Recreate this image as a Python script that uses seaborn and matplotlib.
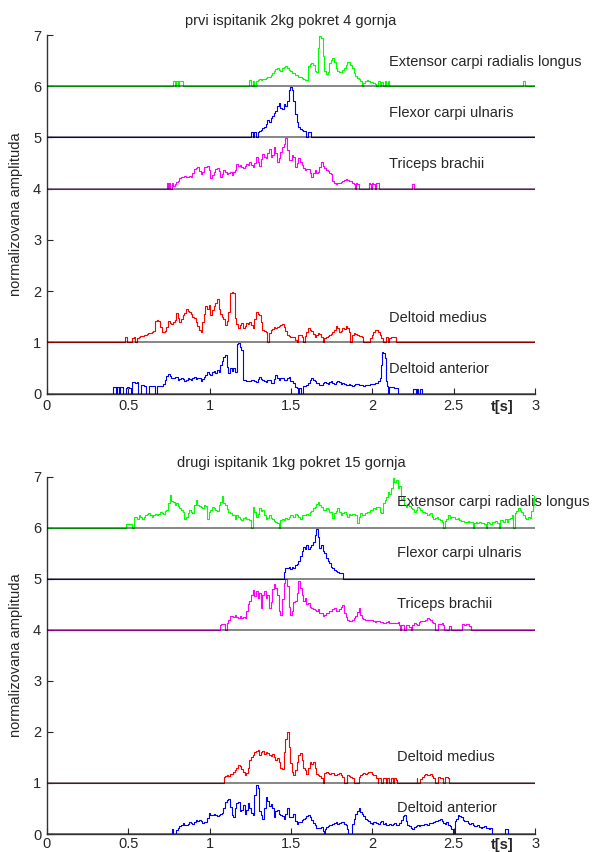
import numpy as np
import matplotlib
matplotlib.use('Agg')
import matplotlib.pyplot as plt
from matplotlib.ticker import FormatStrFormatter
import seaborn as sns

# chart text
titles = ['prvi ispitanik 2kg pokret 4 gornja', 'drugi ispitanik 1kg pokret 15 gornja']
muscles = ['Extensor carpi radialis longus', 'Flexor carpi ulnaris', 'Triceps brachii',
           'Deltoid medius', 'Deltoid anterior']
offsets = [6, 5, 4, 1, 0]
colors = ['#00ff00', '#0000ff', '#ff00ff', '#ff0000', '#0000ff']
x_ticks = [0, 0.5, 1, 1.5, 2, 2.5, 3]
y_ticks = [0, 1, 2, 3, 4, 5, 6, 7]

# ---- subject 1 (top panel) ----
s1_ecrl_t = [0, 0.775, 0.78, 0.79, 0.80, 0.81, 0.82, 0.83, 0.84,
             1.24, 1.25, 1.26, 1.27, 1.28, 1.29, 1.30, 1.31, 1.32, 1.33,
             1.34, 1.35, 1.36, 1.37, 1.38, 1.39, 1.40, 1.41, 1.42, 1.43,
             1.44, 1.45, 1.46, 1.47, 1.48, 1.49, 1.50, 1.51, 1.52, 1.53,
             1.54, 1.55, 1.56, 1.57, 1.58, 1.59, 1.60, 1.61, 1.62, 1.63,
             1.64, 1.65, 1.66, 1.67, 1.68, 1.69, 1.70, 1.71, 1.72, 1.73,
             1.74, 1.75, 1.76, 1.77, 1.78, 1.79, 1.80, 1.81, 1.82, 1.83,
             1.84, 1.85, 1.86, 1.87, 1.88, 1.89, 1.90, 1.91, 1.92, 1.93,
             1.94, 1.95, 1.96, 1.97, 1.98, 1.99, 2.00, 2.01, 2.02, 2.03,
             2.04, 2.05, 2.06, 2.07, 2.08, 2.09, 2.10, 2.11,
             2.92, 2.925, 2.935, 2.94, 3.0]
s1_ecrl_v = [0, 0, 0.10, 0, 0.10, 0, 0.10, 0.10, 0,
             0, 0.12, 0.0, 0.11, 0.0, 0.10, 0.12, 0.14, 0.13, 0.15,
             0.15, 0.17, 0.18, 0.19, 0.21, 0.25, 0.30, 0.34, 0.36, 0.31,
             0.29, 0.35, 0.38, 0.40, 0.36, 0.31, 0.30, 0.26, 0.25, 0.22,
             0.22, 0.19, 0.18, 0.17, 0.15, 0.12, 0.13, 0.40, 0.44, 0.45,
             0.42, 0.30, 0.28, 0.75, 0.98, 0.95, 0.60, 0.30, 0.24, 0.28,
             0.45, 0.52, 0.56, 0.48, 0.35, 0.30, 0.28, 0.27, 0.31, 0.36,
             0.42, 0.47, 0.48, 0.42, 0.35, 0.25, 0.20, 0.16, 0.14, 0.10,
             0.0, 0.06, 0.10, 0.12, 0.11, 0.08, 0.09, 0.06, 0.05, 0.0,
             0.10, 0.0, 0.09, 0.0, 0.10, 0.0, 0.10, 0,
             0, 0.10, 0.10, 0, 0]

s1_fcu_t = [0, 1.255, 1.26, 1.27, 1.28, 1.29, 1.30, 1.31, 1.32, 1.33,
            1.34, 1.35, 1.36, 1.37, 1.38, 1.39, 1.40, 1.41, 1.42, 1.43,
            1.44, 1.45, 1.46, 1.47, 1.48, 1.49, 1.50, 1.51, 1.52, 1.53,
            1.54, 1.55, 1.56, 1.57, 1.58, 1.59, 1.60, 1.61, 1.62, 1.625, 3.0]
s1_fcu_v = [0, 0, 0.10, 0, 0.10, 0.0, 0.10, 0.12, 0.15, 0.18,
            0.20, 0.27, 0.34, 0.30, 0.38, 0.42, 0.48, 0.52, 0.62, 0.68,
            0.58, 0.55, 0.66, 0.62, 0.72, 0.92, 0.99, 0.92, 0.72, 0.45,
            0.30, 0.20, 0.16, 0.14, 0.13, 0.12, 0.0, 0.10, 0.10, 0, 0]

s1_tri_t = [0, 0.735, 0.74, 0.75, 0.755, 0.765, 0.77, 0.78, 0.79, 0.80,
            0.81, 0.82, 0.83, 0.84, 0.85, 0.86, 0.87, 0.88, 0.89, 0.90,
            0.91, 0.92, 0.93, 0.94, 0.95, 0.96, 0.97, 0.98, 0.99, 1.00,
            1.01, 1.02, 1.03, 1.04, 1.05, 1.06, 1.07, 1.08, 1.09, 1.10,
            1.11, 1.12, 1.13, 1.14, 1.15, 1.16, 1.17, 1.18, 1.19, 1.20,
            1.21, 1.22, 1.23, 1.24, 1.25, 1.26, 1.27, 1.28, 1.29, 1.30,
            1.31, 1.32, 1.33, 1.34, 1.35, 1.36, 1.37, 1.38, 1.39, 1.40,
            1.41, 1.42, 1.43, 1.44, 1.45, 1.46, 1.47, 1.48, 1.49, 1.50,
            1.51, 1.52, 1.53, 1.54, 1.55, 1.56, 1.57, 1.58, 1.59, 1.60,
            1.61, 1.62, 1.63, 1.64, 1.65, 1.66, 1.67, 1.68, 1.69, 1.70,
            1.71, 1.72, 1.73, 1.74, 1.75, 1.76, 1.77, 1.78, 1.79, 1.80,
            1.81, 1.82, 1.83, 1.84, 1.85, 1.86, 1.87, 1.88, 1.89, 1.895,
            1.90, 1.91, 1.92, 1.975, 1.98, 1.99, 1.995, 2.00, 2.01, 2.02,
            2.025, 2.04, 2.045, 2.05, 2.24, 2.245, 2.255, 2.26, 3.0]
s1_tri_v = [0, 0, 0.11, 0.0, 0.11, 0.0, 0.11, 0.05, 0.10, 0.13,
            0.15, 0.20, 0.23, 0.22, 0.24, 0.23, 0.22, 0.24, 0.23, 0.30,
            0.39, 0.41, 0.42, 0.35, 0.29, 0.33, 0.42, 0.43, 0.44, 0.36,
            0.20, 0.26, 0.33, 0.38, 0.41, 0.35, 0.23, 0.28, 0.36, 0.33,
            0.28, 0.30, 0.32, 0.27, 0.33, 0.37, 0.49, 0.44, 0.46, 0.43,
            0.40, 0.45, 0.49, 0.47, 0.52, 0.46, 0.43, 0.51, 0.62, 0.52,
            0.45, 0.58, 0.68, 0.62, 0.59, 0.70, 0.78, 0.62, 0.66, 0.81,
            0.70, 0.52, 0.60, 0.72, 0.82, 0.88, 0.98, 0.75, 0.55, 0.55,
            0.65, 0.62, 0.42, 0.50, 0.59, 0.52, 0.46, 0.40, 0.36, 0.39,
            0.38, 0.30, 0.23, 0.30, 0.36, 0.30, 0.33, 0.42, 0.52, 0.45,
            0.40, 0.36, 0.34, 0.30, 0.28, 0.15, 0.11, 0.09, 0.11, 0.12,
            0.13, 0.14, 0.16, 0.18, 0.16, 0.15, 0.15, 0.12, 0.10, 0.0,
            0.11, 0.10, 0.0, 0.0, 0.11, 0.10, 0.0, 0.11, 0.10, 0.0,
            0.11, 0.11, 0.0, 0.0, 0.0, 0.10, 0.10, 0.0, 0.0]

s1_dm_t = [0, 0.478, 0.482, 0.49, 0.495, 0.52, 0.53, 0.54, 0.55, 0.56,
           0.57, 0.58, 0.59, 0.60, 0.61, 0.62, 0.63, 0.64, 0.65, 0.66,
           0.67, 0.68, 0.69, 0.70, 0.71, 0.72, 0.73, 0.74, 0.75, 0.76,
           0.77, 0.78, 0.79, 0.80, 0.81, 0.82, 0.83, 0.84, 0.85, 0.86,
           0.87, 0.88, 0.89, 0.90, 0.91, 0.92, 0.93, 0.94, 0.95, 0.96,
           0.97, 0.98, 0.99, 1.00, 1.01, 1.02, 1.03, 1.04, 1.05, 1.06,
           1.07, 1.08, 1.09, 1.10, 1.11, 1.12, 1.13, 1.14, 1.15, 1.16,
           1.17, 1.18, 1.19, 1.20, 1.21, 1.22, 1.23, 1.24, 1.25, 1.26,
           1.27, 1.28, 1.29, 1.30, 1.31, 1.32, 1.33, 1.34, 1.35, 1.36,
           1.37, 1.38, 1.39, 1.40, 1.41, 1.42, 1.43, 1.44, 1.45, 1.46,
           1.47, 1.48, 1.49, 1.50, 1.51, 1.52, 1.53, 1.54, 1.55, 1.56,
           1.57, 1.58, 1.59, 1.60, 1.61, 1.62, 1.63, 1.64, 1.65, 1.66,
           1.67, 1.68, 1.69, 1.70, 1.71, 1.72, 1.73, 1.74, 1.75, 1.76,
           1.77, 1.78, 1.79, 1.80, 1.81, 1.82, 1.83, 1.84, 1.85, 1.86,
           1.87, 1.88, 1.89, 1.90, 1.91, 1.92, 1.93, 1.94, 1.95, 1.96,
           1.98, 1.99, 2.00, 2.01, 2.02, 2.03, 2.04, 2.05, 2.06, 2.07,
           2.08, 2.085, 2.09, 2.10, 2.11, 2.12, 2.13, 2.14, 2.15, 3.0]
s1_dm_v = [0, 0, 0.11, 0.11, 0, 0, 0.09, 0.10, 0.0, 0.08,
           0.11, 0.12, 0.13, 0.14, 0.15, 0.17, 0.18, 0.19, 0.21, 0.22,
           0.42, 0.44, 0.42, 0.30, 0.21, 0.21, 0.22, 0.30, 0.42, 0.38,
           0.35, 0.40, 0.44, 0.57, 0.48, 0.40, 0.46, 0.53, 0.58, 0.66,
           0.62, 0.60, 0.55, 0.50, 0.47, 0.40, 0.31, 0.25, 0.21, 0.40,
           0.55, 0.70, 0.65, 0.73, 0.53, 0.63, 0.70, 0.76, 0.85, 0.65,
           0.55, 0.50, 0.45, 0.34, 0.42, 0.60, 0.96, 0.99, 0.97, 0.47,
           0.35, 0.27, 0.33, 0.37, 0.28, 0.32, 0.37, 0.36, 0.40, 0.33,
           0.27, 0.45, 0.60, 0.55, 0.53, 0.40, 0.24, 0.22, 0.20, 0.0,
           0.18, 0.24, 0.26, 0.29, 0.28, 0.30, 0.31, 0.33, 0.35, 0.30,
           0.22, 0.14, 0.12, 0.11, 0.11, 0.10, 0.05, 0.0, 0.14, 0.14,
           0.10, 0.0, 0.12, 0.20, 0.27, 0.25, 0.23, 0.16, 0.11, 0.14,
           0.18, 0.17, 0.10, 0.0, 0.09, 0.11, 0.12, 0.14, 0.16, 0.21,
           0.25, 0.31, 0.28, 0.21, 0.22, 0.27, 0.26, 0.31, 0.28, 0.21,
           0.0, 0.15, 0.18, 0.16, 0.15, 0.13, 0.12, 0.11, 0.0, 0.0,
           0.0, 0.08, 0.15, 0.20, 0.24, 0.25, 0.20, 0.15, 0.08, 0.0,
           0.0, 0.11, 0.10, 0.0, 0.08, 0.11, 0.10, 0.11, 0, 0]

s1_da_t = [0, 0.405, 0.41, 0.42, 0.425, 0.435, 0.44, 0.45, 0.455, 0.465,
           0.47, 0.48, 0.49, 0.50, 0.51, 0.52, 0.53, 0.54, 0.55, 0.56,
           0.565, 0.575, 0.58, 0.59, 0.60, 0.61, 0.615, 0.625, 0.63, 0.64,
           0.65, 0.66, 0.665, 0.675, 0.68, 0.69, 0.70, 0.71, 0.72, 0.73,
           0.74, 0.75, 0.76, 0.77, 0.78, 0.79, 0.80, 0.81, 0.82, 0.83,
           0.84, 0.85, 0.86, 0.87, 0.88, 0.89, 0.90, 0.91, 0.92, 0.93,
           0.94, 0.95, 0.96, 0.97, 0.98, 0.99, 1.00, 1.01, 1.02, 1.03,
           1.04, 1.05, 1.06, 1.07, 1.08, 1.09, 1.10, 1.11, 1.12, 1.13,
           1.14, 1.15, 1.16, 1.165, 1.17, 1.18, 1.19, 1.20, 1.205, 1.21,
           1.22, 1.23, 1.24, 1.25, 1.26, 1.27, 1.28, 1.29, 1.30, 1.31,
           1.32, 1.33, 1.34, 1.35, 1.36, 1.37, 1.38, 1.39, 1.40, 1.41,
           1.42, 1.43, 1.44, 1.45, 1.46, 1.47, 1.48, 1.49, 1.50, 1.51,
           1.52, 1.53, 1.54, 1.545, 1.55, 1.56, 1.565, 1.57, 1.58, 1.59,
           1.60, 1.61, 1.62, 1.63, 1.64, 1.65, 1.66, 1.67, 1.68, 1.69,
           1.70, 1.71, 1.72, 1.73, 1.74, 1.75, 1.76, 1.77, 1.78, 1.79,
           1.80, 1.81, 1.82, 1.83, 1.84, 1.85, 1.86, 1.87, 1.88, 1.89,
           1.90, 1.91, 1.92, 1.93, 1.94, 1.95, 1.96, 1.97, 1.98, 1.99,
           2.00, 2.01, 2.02, 2.03, 2.04, 2.05, 2.055, 2.06, 2.07, 2.08,
           2.085, 2.09, 2.10, 2.11, 2.12, 2.13, 2.14, 2.15, 2.16, 2.17,
           2.25, 2.255, 2.265, 2.27, 2.28, 2.285, 2.30, 2.305, 2.31, 3.0]
s1_da_v = [0, 0, 0.12, 0.12, 0, 0.12, 0.12, 0, 0.12, 0.12,
           0.0, 0.0, 0.10, 0.12, 0.11, 0.0, 0.22, 0.22, 0.21, 0.22,
           0.0, 0.0, 0.17, 0.17, 0.14, 0.14, 0.0, 0.0, 0.14, 0.14,
           0.14, 0.14, 0.0, 0.0, 0.14, 0.14, 0.14, 0.15, 0.18, 0.27,
           0.34, 0.38, 0.34, 0.30, 0.30, 0.32, 0.33, 0.27, 0.28, 0.31,
           0.29, 0.24, 0.27, 0.31, 0.28, 0.27, 0.30, 0.33, 0.29, 0.31,
           0.30, 0.24, 0.28, 0.33, 0.36, 0.42, 0.38, 0.36, 0.43, 0.44,
           0.40, 0.45, 0.43, 0.56, 0.63, 0.72, 0.76, 0.52, 0.40, 0.50,
           0.44, 0.50, 0.42, 0.42, 0.96, 0.98, 0.90, 0.85, 0.40, 0.27,
           0.26, 0.24, 0.25, 0.24, 0.26, 0.27, 0.25, 0.22, 0.29, 0.33,
           0.28, 0.27, 0.24, 0.23, 0.27, 0.27, 0.20, 0.20, 0.29, 0.36,
           0.30, 0.27, 0.31, 0.30, 0.27, 0.26, 0.31, 0.32, 0.25, 0.24,
           0.20, 0.12, 0.10, 0.0, 0.10, 0.10, 0.0, 0.0, 0.14, 0.14,
           0.17, 0.20, 0.26, 0.30, 0.27, 0.25, 0.20, 0.20, 0.17, 0.16,
           0.20, 0.23, 0.20, 0.19, 0.22, 0.24, 0.21, 0.19, 0.23, 0.25,
           0.22, 0.19, 0.20, 0.18, 0.17, 0.17, 0.18, 0.16, 0.15, 0.17,
           0.18, 0.19, 0.17, 0.16, 0.17, 0.15, 0.16, 0.17, 0.17, 0.18,
           0.19, 0.18, 0.20, 0.21, 0.24, 0.30, 0.55, 0.82, 0.80, 0.70,
           0.25, 0.15, 0.0, 0.12, 0.12, 0.12, 0.11, 0.10, 0.0, 0.0,
           0.0, 0.09, 0.09, 0.0, 0.09, 0.0, 0.09, 0.0, 0, 0]

# ---- subject 2 (bottom panel) ----
s2_ecrl_t = [0, 0.485, 0.49, 0.52, 0.525, 0.53, 0.54, 0.55, 0.56, 0.57,
             0.58, 0.59, 0.60, 0.61, 0.62, 0.63, 0.64, 0.65, 0.66, 0.67,
             0.68, 0.69, 0.70, 0.71, 0.72, 0.73, 0.74, 0.75, 0.76, 0.77,
             0.78, 0.79, 0.80, 0.81, 0.82, 0.83, 0.84, 0.85, 0.86, 0.87,
             0.88, 0.89, 0.90, 0.91, 0.92, 0.93, 0.94, 0.95, 0.96, 0.97,
             0.98, 0.99, 1.00, 1.01, 1.02, 1.03, 1.04, 1.05, 1.06, 1.07,
             1.08, 1.09, 1.10, 1.11, 1.12, 1.13, 1.14, 1.15, 1.16, 1.17,
             1.18, 1.19, 1.20, 1.21, 1.22, 1.23, 1.24, 1.25, 1.26, 1.27,
             1.28, 1.29, 1.30, 1.31, 1.32, 1.33, 1.34, 1.35, 1.36, 1.37,
             1.38, 1.39, 1.40, 1.41, 1.42, 1.43, 1.44, 1.45, 1.46, 1.47,
             1.48, 1.49, 1.50, 1.51, 1.52, 1.53, 1.54, 1.55, 1.56, 1.57,
             1.58, 1.59, 1.60, 1.61, 1.62, 1.63, 1.64, 1.65, 1.66, 1.67,
             1.68, 1.69, 1.70, 1.71, 1.72, 1.73, 1.74, 1.75, 1.76, 1.77,
             1.78, 1.79, 1.80, 1.81, 1.82, 1.83, 1.84, 1.85, 1.86, 1.87,
             1.88, 1.89, 1.90, 1.91, 1.92, 1.93, 1.94, 1.95, 1.96, 1.97,
             1.98, 1.99, 2.00, 2.01, 2.02, 2.03, 2.04, 2.05, 2.06, 2.07,
             2.08, 2.09, 2.10, 2.11, 2.12, 2.13, 2.14, 2.15, 2.16, 2.17,
             2.18, 2.19, 2.20, 2.21, 2.22, 2.23, 2.24, 2.25, 2.26, 2.27,
             2.28, 2.29, 2.30, 2.31, 2.32, 2.33, 2.34, 2.35, 2.36, 2.37,
             2.38, 2.39, 2.40, 2.41, 2.42, 2.43, 2.44, 2.45, 2.46, 2.47,
             2.48, 2.49, 2.50, 2.51, 2.52, 2.53, 2.54, 2.55, 2.56, 2.57,
             2.58, 2.59, 2.60, 2.61, 2.62, 2.63, 2.64, 2.65, 2.66, 2.67,
             2.68, 2.69, 2.70, 2.71, 2.72, 2.73, 2.74, 2.75, 2.76, 2.77,
             2.78, 2.79, 2.80, 2.81, 2.82, 2.83, 2.84, 2.85, 2.86, 2.87,
             2.88, 2.89, 2.90, 2.91, 2.92, 2.93, 2.94, 2.95, 2.96, 2.97,
             2.98, 2.99, 2.995, 3.0]
s2_ecrl_v = [0, 0, 0.08, 0.08, 0.0, 0.0, 0.22, 0.22, 0.18, 0.24,
             0.22, 0.18, 0.22, 0.24, 0.26, 0.28, 0.25, 0.22, 0.25, 0.27,
             0.25, 0.27, 0.31, 0.28, 0.27, 0.33, 0.35, 0.48, 0.64, 0.52,
             0.50, 0.44, 0.48, 0.42, 0.38, 0.35, 0.30, 0.18, 0.22, 0.28,
             0.34, 0.30, 0.28, 0.45, 0.54, 0.44, 0.42, 0.40, 0.38, 0.44,
             0.42, 0.18, 0.30, 0.34, 0.41, 0.38, 0.35, 0.33, 0.44, 0.51,
             0.63, 0.48, 0.44, 0.36, 0.30, 0.28, 0.25, 0.24, 0.18, 0.25,
             0.22, 0.18, 0.15, 0.20, 0.22, 0.18, 0.17, 0.15, 0.0, 0.41,
             0.30, 0.22, 0.27, 0.38, 0.32, 0.35, 0.24, 0.18, 0.20, 0.25,
             0.20, 0.18, 0.14, 0.12, 0.10, 0.0, 0.15, 0.18, 0.16, 0.19,
             0.18, 0.22, 0.25, 0.24, 0.21, 0.26, 0.25, 0.22, 0.18, 0.24,
             0.25, 0.24, 0.27, 0.25, 0.31, 0.33, 0.38, 0.40, 0.46, 0.51,
             0.44, 0.41, 0.35, 0.34, 0.38, 0.36, 0.31, 0.30, 0.20, 0.28,
             0.33, 0.38, 0.30, 0.25, 0.28, 0.30, 0.26, 0.22, 0.26, 0.25,
             0.27, 0.26, 0.24, 0.10, 0.22, 0.28, 0.25, 0.24, 0.28, 0.31,
             0.30, 0.34, 0.35, 0.38, 0.37, 0.40, 0.41, 0.30, 0.28, 0.48,
             0.55, 0.60, 0.70, 0.66, 0.78, 0.97, 0.90, 0.93, 0.78, 0.82,
             0.57, 0.60, 0.44, 0.40, 0.47, 0.42, 0.38, 0.36, 0.30, 0.35,
             0.41, 0.38, 0.34, 0.30, 0.31, 0.28, 0.25, 0.27, 0.28, 0.22,
             0.18, 0.20, 0.22, 0.18, 0.15, 0.12, 0.0, 0.14, 0.18, 0.25,
             0.20, 0.22, 0.21, 0.18, 0.17, 0.19, 0.15, 0.14, 0.13, 0.12,
             0.12, 0.13, 0.11, 0.12, 0.0, 0.10, 0.11, 0.10, 0.12, 0.10,
             0.09, 0.08, 0.0, 0.12, 0.10, 0.08, 0.11, 0.12, 0.14, 0.10,
             0.0, 0.15, 0.16, 0.12, 0.18, 0.12, 0.17, 0.20, 0.25, 0.0,
             0.28, 0.33, 0.38, 0.34, 0.30, 0.25, 0.20, 0.18, 0.22, 0.20,
             0.32, 0.44, 0.62, 0.0]

s2_fcu_t = [0, 1.455, 1.46, 1.47, 1.48, 1.49, 1.50, 1.51, 1.52, 1.53,
            1.54, 1.55, 1.56, 1.57, 1.58, 1.59, 1.60, 1.61, 1.62, 1.63,
            1.64, 1.65, 1.66, 1.67, 1.68, 1.69, 1.70, 1.71, 1.72, 1.73,
            1.74, 1.75, 1.76, 1.77, 1.78, 1.79, 1.80, 1.81, 1.82, 1.825, 3.0]
s2_fcu_v = [0, 0, 0.14, 0.21, 0.22, 0.24, 0.20, 0.23, 0.22, 0.27,
            0.28, 0.34, 0.45, 0.55, 0.63, 0.58, 0.67, 0.58, 0.62, 0.66,
            0.73, 0.86, 0.98, 0.82, 0.60, 0.66, 0.54, 0.50, 0.41, 0.35,
            0.31, 0.24, 0.21, 0.18, 0.15, 0.14, 0.12, 0.11, 0.11, 0, 0]

s2_tri_t = [0, 1.06, 1.065, 1.08, 1.09, 1.10, 1.105, 1.11, 1.12, 1.13,
            1.14, 1.15, 1.16, 1.17, 1.18, 1.19, 1.20, 1.21, 1.22, 1.23,
            1.24, 1.25, 1.26, 1.27, 1.28, 1.29, 1.30, 1.31, 1.32, 1.33,
            1.34, 1.35, 1.36, 1.37, 1.38, 1.39, 1.40, 1.41, 1.42, 1.43,
            1.44, 1.45, 1.46, 1.47, 1.48, 1.49, 1.50, 1.51, 1.52, 1.53,
            1.54, 1.55, 1.56, 1.57, 1.58, 1.59, 1.60, 1.61, 1.62, 1.63,
            1.64, 1.65, 1.66, 1.67, 1.68, 1.69, 1.70, 1.71, 1.72, 1.73,
            1.74, 1.75, 1.76, 1.77, 1.78, 1.79, 1.80, 1.81, 1.82, 1.83,
            1.84, 1.85, 1.86, 1.87, 1.88, 1.89, 1.90, 1.91, 1.92, 1.93,
            1.94, 1.95, 1.96, 1.97, 1.98, 1.99, 2.00, 2.01, 2.02, 2.03,
            2.04, 2.05, 2.06, 2.07, 2.08, 2.09, 2.10, 2.11, 2.12, 2.13,
            2.14, 2.15, 2.16, 2.17, 2.175, 2.18, 2.19, 2.195, 2.20, 2.21,
            2.22, 2.23, 2.24, 2.25, 2.26, 2.27, 2.28, 2.29, 2.30, 2.31,
            2.32, 2.33, 2.34, 2.35, 2.36, 2.37, 2.38, 2.39, 2.40, 2.41,
            2.42, 2.43, 2.44, 2.445, 2.47, 2.475, 2.48, 2.49, 2.55, 2.555,
            2.56, 2.57, 2.58, 2.59, 2.60, 2.61, 3.0]
s2_tri_v = [0, 0, 0.10, 0.11, 0.11, 0.0, 0.0, 0.14, 0.20, 0.27,
            0.28, 0.25, 0.30, 0.26, 0.24, 0.27, 0.23, 0.25, 0.24, 0.37,
            0.50, 0.56, 0.69, 0.79, 0.66, 0.76, 0.63, 0.72, 0.43, 0.69,
            0.76, 0.63, 0.69, 0.43, 0.55, 0.80, 0.89, 0.82, 0.69, 0.37,
            0.30, 0.60, 0.92, 0.99, 0.86, 0.45, 0.30, 0.36, 0.55, 0.56,
            0.72, 0.95, 0.82, 0.69, 0.56, 0.62, 0.50, 0.53, 0.45, 0.43,
            0.40, 0.39, 0.37, 0.40, 0.33, 0.33, 0.28, 0.30, 0.32, 0.33,
            0.37, 0.36, 0.40, 0.42, 0.37, 0.36, 0.41, 0.44, 0.48, 0.33,
            0.25, 0.20, 0.17, 0.17, 0.20, 0.24, 0.28, 0.35, 0.42, 0.30,
            0.24, 0.22, 0.20, 0.20, 0.19, 0.20, 0.19, 0.17, 0.16, 0.18,
            0.17, 0.16, 0.15, 0.14, 0.13, 0.15, 0.17, 0.14, 0.13, 0.14,
            0.13, 0.14, 0.15, 0.10, 0.0, 0.10, 0.10, 0.0, 0.0, 0.10,
            0.10, 0.05, 0.0, 0.10, 0.14, 0.12, 0.10, 0.15, 0.17, 0.18,
            0.18, 0.20, 0.24, 0.22, 0.20, 0.15, 0.13, 0.0, 0.0, 0.11,
            0.12, 0.13, 0.10, 0.0, 0.0, 0.07, 0.07, 0.0, 0.0, 0.11,
            0.12, 0.10, 0.11, 0.11, 0.08, 0.0, 0.0]

s2_dm_t = [0, 1.085, 1.09, 1.10, 1.11, 1.12, 1.13, 1.14, 1.15, 1.16,
           1.17, 1.18, 1.19, 1.20, 1.21, 1.22, 1.23, 1.24, 1.25, 1.26,
           1.27, 1.28, 1.29, 1.30, 1.31, 1.32, 1.33, 1.34, 1.35, 1.36,
           1.37, 1.38, 1.39, 1.40, 1.41, 1.42, 1.43, 1.44, 1.45, 1.46,
           1.47, 1.48, 1.49, 1.50, 1.51, 1.52, 1.53, 1.54, 1.55, 1.56,
           1.57, 1.58, 1.59, 1.60, 1.61, 1.62, 1.63, 1.64, 1.65, 1.66,
           1.67, 1.68, 1.69, 1.70, 1.71, 1.72, 1.73, 1.74, 1.75, 1.76,
           1.77, 1.78, 1.79, 1.80, 1.81, 1.82, 1.83, 1.84, 1.85, 1.86,
           1.87, 1.88, 1.89, 1.90, 1.91, 1.92, 1.93, 1.94, 1.95, 1.96,
           1.97, 1.98, 1.99, 2.00, 2.01, 2.02, 2.03, 2.035, 2.04, 2.05,
           2.06, 2.065, 2.07, 2.08, 2.085, 2.09, 2.10, 2.11, 2.115, 2.12,
           2.13, 2.135, 2.14, 2.15, 2.155, 2.27, 2.273, 2.28, 2.29, 2.30,
           2.31, 2.32, 2.33, 2.34, 2.35, 2.36, 2.37, 2.38, 2.39, 2.40,
           2.41, 2.42, 2.43, 2.435, 2.44, 2.45, 2.46, 2.47, 2.475, 3.0]
s2_dm_v = [0, 0, 0.12, 0.13, 0.15, 0.14, 0.17, 0.18, 0.22, 0.25,
           0.30, 0.35, 0.33, 0.28, 0.22, 0.16, 0.20, 0.30, 0.45, 0.50,
           0.54, 0.60, 0.62, 0.64, 0.55, 0.60, 0.62, 0.57, 0.60, 0.58,
           0.55, 0.52, 0.56, 0.50, 0.45, 0.48, 0.42, 0.30, 0.28, 0.60,
           0.87, 1.00, 0.71, 0.40, 0.22, 0.15, 0.25, 0.42, 0.54, 0.58,
           0.45, 0.30, 0.25, 0.18, 0.30, 0.41, 0.38, 0.41, 0.30, 0.18,
           0.15, 0.14, 0.10, 0.0, 0.20, 0.22, 0.20, 0.18, 0.20, 0.19,
           0.15, 0.16, 0.18, 0.19, 0.16, 0.12, 0.0, 0.0, 0.15, 0.14,
           0.12, 0.10, 0.0, 0.0, 0.0, 0.12, 0.16, 0.18, 0.20, 0.17,
           0.19, 0.21, 0.22, 0.18, 0.15, 0.16, 0.10, 0.0, 0.10, 0.10,
           0.0, 0.0, 0.10, 0.10, 0.0, 0.10, 0.10, 0.0, 0.10, 0.10,
           0.0, 0.10, 0.10, 0.05, 0.0, 0.0, 0.10, 0.0, 0.0, 0.08,
           0.12, 0.15, 0.18, 0.16, 0.15, 0.18, 0.14, 0.10, 0.0, 0.0,
           0.12, 0.10, 0.10, 0.0, 0.0, 0.11, 0.12, 0.10, 0.0, 0.0]

s2_da_t = [0, 0.765, 0.768, 0.775, 0.78, 0.79, 0.80, 0.81, 0.82, 0.83,
           0.84, 0.85, 0.86, 0.87, 0.88, 0.89, 0.90, 0.91, 0.92, 0.93,
           0.94, 0.95, 0.96, 0.97, 0.98, 0.99, 1.00, 1.01, 1.02, 1.03,
           1.04, 1.05, 1.06, 1.07, 1.08, 1.09, 1.10, 1.11, 1.12, 1.13,
           1.14, 1.15, 1.16, 1.17, 1.18, 1.19, 1.20, 1.21, 1.22, 1.23,
           1.24, 1.25, 1.26, 1.27, 1.28, 1.29, 1.30, 1.31, 1.32, 1.33,
           1.34, 1.35, 1.36, 1.37, 1.38, 1.39, 1.40, 1.41, 1.42, 1.43,
           1.44, 1.45, 1.46, 1.47, 1.48, 1.49, 1.50, 1.51, 1.52, 1.53,
           1.54, 1.55, 1.56, 1.57, 1.58, 1.59, 1.60, 1.61, 1.62, 1.63,
           1.64, 1.65, 1.66, 1.67, 1.68, 1.69, 1.70, 1.705, 1.71, 1.72,
           1.73, 1.74, 1.75, 1.76, 1.77, 1.78, 1.79, 1.80, 1.81, 1.82,
           1.83, 1.84, 1.85, 1.855, 1.87, 1.875, 1.88, 1.89, 1.90, 1.91,
           1.92, 1.93, 1.94, 1.95, 1.96, 1.97, 1.98, 1.99, 2.00, 2.01,
           2.02, 2.03, 2.04, 2.05, 2.06, 2.07, 2.08, 2.09, 2.10, 2.11,
           2.12, 2.13, 2.14, 2.15, 2.16, 2.17, 2.18, 2.19, 2.20, 2.21,
           2.22, 2.23, 2.24, 2.25, 2.26, 2.27, 2.28, 2.29, 2.30, 2.31,
           2.32, 2.33, 2.34, 2.35, 2.36, 2.37, 2.38, 2.39, 2.40, 2.41,
           2.42, 2.43, 2.44, 2.45, 2.46, 2.47, 2.48, 2.49, 2.495, 2.50,
           2.51, 2.52, 2.53, 2.54, 2.55, 2.56, 2.57, 2.58, 2.59, 2.60,
           2.61, 2.62, 2.63, 2.64, 2.65, 2.66, 2.67, 2.68, 2.69, 2.70,
           2.71, 2.72, 2.73, 2.735, 2.815, 2.82, 2.83, 2.835, 3.0]
s2_da_v = [0, 0, 0.10, 0.10, 0.0, 0.0, 0.08, 0.12, 0.16, 0.18,
           0.21, 0.18, 0.17, 0.20, 0.24, 0.22, 0.20, 0.24, 0.27, 0.26,
           0.28, 0.25, 0.21, 0.24, 0.24, 0.32, 0.41, 0.38, 0.37, 0.39,
           0.38, 0.36, 0.37, 0.39, 0.42, 0.50, 0.62, 0.67, 0.69, 0.52,
           0.38, 0.34, 0.50, 0.60, 0.63, 0.45, 0.48, 0.57, 0.40, 0.47,
           0.60, 0.50, 0.42, 0.37, 0.76, 0.97, 0.90, 0.45, 0.37, 0.30,
           0.50, 0.73, 0.64, 0.55, 0.58, 0.50, 0.34, 0.45, 0.48, 0.40,
           0.38, 0.36, 0.30, 0.40, 0.50, 0.34, 0.33, 0.34, 0.40, 0.25,
           0.20, 0.24, 0.24, 0.27, 0.30, 0.32, 0.35, 0.37, 0.33, 0.27,
           0.22, 0.18, 0.12, 0.11, 0.12, 0.14, 0.05, 0.0, 0.10, 0.14,
           0.15, 0.17, 0.18, 0.20, 0.22, 0.24, 0.20, 0.21, 0.23, 0.24,
           0.20, 0.17, 0.10, 0.0, 0.0, 0.10, 0.20, 0.30, 0.40, 0.45,
           0.50, 0.44, 0.40, 0.35, 0.30, 0.28, 0.25, 0.22, 0.20, 0.23,
           0.24, 0.21, 0.20, 0.24, 0.25, 0.20, 0.21, 0.18, 0.17, 0.19,
           0.18, 0.20, 0.21, 0.17, 0.18, 0.22, 0.28, 0.35, 0.37, 0.25,
           0.18, 0.15, 0.12, 0.10, 0.14, 0.15, 0.17, 0.16, 0.17, 0.18,
           0.19, 0.20, 0.18, 0.21, 0.22, 0.21, 0.24, 0.26, 0.25, 0.28,
           0.30, 0.26, 0.22, 0.20, 0.24, 0.18, 0.15, 0.10, 0.0, 0.0,
           0.25, 0.30, 0.37, 0.35, 0.33, 0.28, 0.26, 0.25, 0.22, 0.20,
           0.21, 0.18, 0.15, 0.16, 0.17, 0.14, 0.12, 0.13, 0.15, 0.12,
           0.11, 0.10, 0.11, 0.0, 0.0, 0.10, 0.10, 0.0, 0.0]

panels = [
    [(s1_ecrl_t, s1_ecrl_v), (s1_fcu_t, s1_fcu_v), (s1_tri_t, s1_tri_v),
     (s1_dm_t, s1_dm_v), (s1_da_t, s1_da_v)],
    [(s2_ecrl_t, s2_ecrl_v), (s2_fcu_t, s2_fcu_v), (s2_tri_t, s2_tri_v),
     (s2_dm_t, s2_dm_v), (s2_da_t, s2_da_v)],
]
label_x = [2.10, 2.15]
label_dy = [0.48, 0.50]
tick_pad = [4, 2]

sns.set_style('white')
plt.rcParams['font.family'] = ['Liberation Sans', 'DejaVu Sans']
plt.rcParams['font.size'] = 10.5

fig = plt.figure(figsize=(5.96, 8.52), dpi=100)
ax_top = fig.add_axes([0.0784, 0.5381, 0.8196, 0.4208])
ax_bot = fig.add_axes([0.0784, 0.0211, 0.8196, 0.4194])

for ax, traces, title, lx, dy, pad in zip([ax_top, ax_bot], panels, titles,
                                          label_x, label_dy, tick_pad):
    for (t, v), off, col, name in zip(traces, offsets, colors, muscles):
        sns.lineplot(x=t, y=np.array(v) + off, ax=ax, color=col, lw=0.8,
                     estimator=None, sort=False, drawstyle='steps-mid')
        # dark baseline drawn over the trace
        ax.axhline(off, color='black', lw=1.1, alpha=0.6, zorder=3)
        ax.text(lx, off + dy, name, ha='left', va='center', fontsize=10.5)

    ax.set_xlim(0, 3)
    ax.set_ylim(0, 7)
    ax.set_xticks(x_ticks)
    ax.set_yticks(y_ticks)
    ax.xaxis.set_major_formatter(FormatStrFormatter('%g'))
    ax.tick_params(direction='in', length=4, width=0.8, labelsize=10.5,
                   bottom=True, left=True, top=False, right=False, pad=4)
    ax.tick_params(axis='x', pad=pad)
    for side in ['top', 'right']:
        ax.spines[side].set_visible(False)
    for side in ['left', 'bottom']:
        ax.spines[side].set_color('#333333')
        ax.spines[side].set_linewidth(1.0)
    ax.set_title(title, fontsize=10.5, pad=7)
    ax.set_ylabel('normalizovana amplituda', fontsize=10.5)
    ax.yaxis.set_label_coords(-0.048, 0.5)
    ax.set_xlabel('')
    ax.annotate('t[s]', xy=(2.80, 0), xycoords='data', xytext=(0, -pad - 1),
                textcoords='offset points', fontweight='bold', ha='center',
                va='top', fontsize=10.5)

fig.savefig('out.png', dpi=100)
